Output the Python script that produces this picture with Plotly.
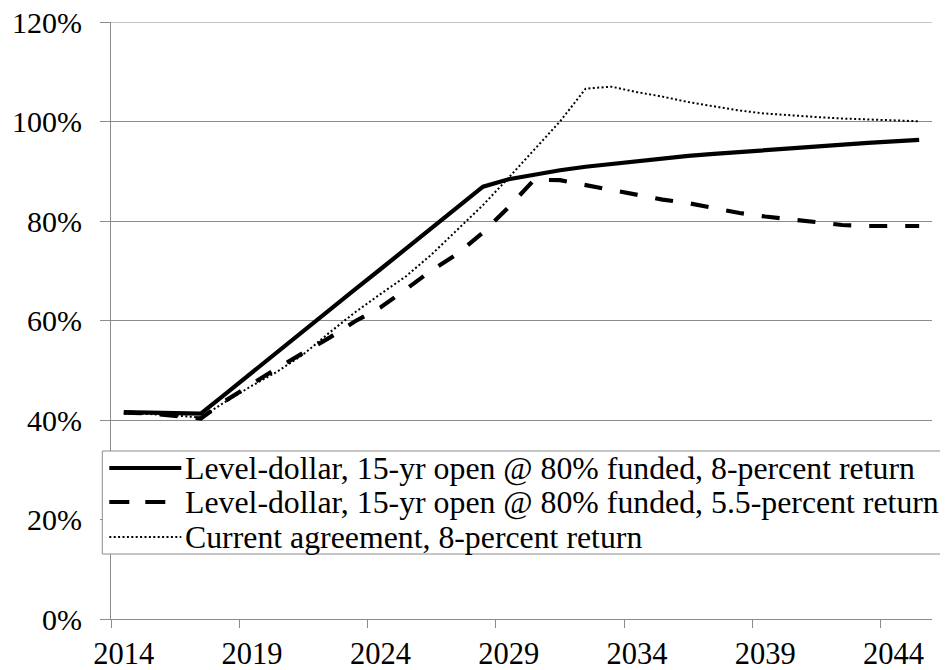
import plotly.graph_objects as go

years = [str(y) for y in range(2014, 2046)]

level_8 = [41.6, 41.5, 41.2, 41.3, 45.4, 49.6, 53.7, 57.9, 62.0, 66.2, 70.3,
           74.5, 78.6, 82.8, 86.9, 88.4, 89.4, 90.2, 90.9, 91.5, 92.1, 92.6,
           93.1, 93.5, 93.9, 94.3, 94.7, 95.1, 95.4, 95.7, 96.0, 96.3]
level_55 = [41.5, 41.3, 40.8, 40.3, 44.0, 47.3, 50.5, 53.5, 56.5, 59.8, 62.6,
            66.3, 70.1, 73.4, 77.7, 82.8, 88.3, 88.2, 87.2, 86.4, 85.2, 84.3,
            83.6, 82.6, 81.6, 80.9, 80.3, 79.6, 79.2, 79.0, 78.9, 79.0]
current_8 = [41.3, 41.2, 40.9, 40.5, 43.8, 46.9, 49.8, 53.2, 57.5, 61.6, 65.3,
             68.9, 73.3, 78.2, 83.2, 88.7, 94.3, 100.0, 106.6, 107.0, 105.9,
             105.0, 103.9, 103.1, 102.2, 101.6, 101.2, 100.9, 100.6, 100.4,
             100.2, 100.05]

series_names = [
    "Level-dollar, 15-yr open @ 80% funded, 8-percent return",
    "Level-dollar, 15-yr open @ 80% funded, 5.5-percent return",
    "Current agreement, 8-percent return",
]
y_tick_vals = [0, 20, 40, 60, 80, 100, 120]
y_tick_text = ["0%", "20%", "40%", "60%", "80%", "100%", "120%"]

FONT = "serif"
GRID = "#8c8c8c"

styles = [
    dict(color="black", width=4.2, dash="solid"),
    dict(color="black", width=4.2, dash="18px,18px"),
    dict(color="black", width=2, dash="2px,2.4px"),
]
data = [level_8, level_55, current_8]

fig = go.Figure()
for name, vals, st in zip(series_names, data, styles):
    fig.add_trace(go.Scatter(x=years, y=vals, mode="lines", name=name,
                             line=st, showlegend=False))

# page offset (body margin) and plot-area geometry in screenshot pixels
OFF = 8
FW, FH = 948 - OFF, 670 - OFF
PL, PR, PT, PB = 110.7, 931.7, 22, 619
L, T = PL - OFF, PT - OFF
R, B = FW - (PR - OFF), FH - (PB - OFF)
W, H = PR - PL, PB - PT


def px_x(p):
    return (p - PL) / W


def px_y(p):
    return (PB - p) / H


shapes = [
    # top gridline (plotly drops gridlines that sit on the plot edge)
    dict(type="line", xref="paper", yref="y", x0=0, x1=1,
         y0=y_tick_vals[-1], y1=y_tick_vals[-1],
         line=dict(color=GRID, width=1), layer="below"),
    dict(type="rect", xref="paper", yref="paper",
         x0=px_x(102), x1=px_x(946), y0=px_y(554), y1=px_y(451),
         fillcolor="white", line=dict(color=GRID, width=1), layer="above"),
]
annotations = []
rows = [468, 502, 537]
for name, st, r in zip(series_names, styles, rows):
    shapes.append(dict(type="line", xref="paper", yref="paper",
                       x0=px_x(109), x1=px_x(181), y0=px_y(r), y1=px_y(r),
                       line=dict(color="black", width=st["width"],
                                 dash=("20px,16px" if "18px" in st["dash"] else st["dash"])),
                       layer="above"))
    annotations.append(dict(xref="paper", yref="paper", x=px_x(183), y=px_y(r),
                            xanchor="left", yanchor="middle", text=name,
                            showarrow=False,
                            font=dict(family=FONT, size=31.8, color="black")))

fig.update_layout(
    width=FW, height=FH,
    margin=dict(l=L, r=R, t=T, b=B),
    paper_bgcolor="white", plot_bgcolor="white",
    font=dict(family=FONT, color="black"),
    shapes=shapes, annotations=annotations,
)
fig.update_xaxes(
    type="category", range=[-0.5, 31.5], dtick=5, tick0=0,
    tickson="boundaries", ticks="outside", ticklen=8, tickcolor=GRID,
    showgrid=False, showline=True, linecolor=GRID, linewidth=1,
    tickfont=dict(family=FONT, size=30.5), ticklabelstandoff=7,
    tickangle=0, automargin=False, ticklabeloverflow="allow",
)
fig.update_yaxes(
    range=[0, 120], tickvals=y_tick_vals, ticktext=y_tick_text,
    ticks="outside", ticklen=10, tickcolor=GRID,
    showgrid=True, gridcolor=GRID, gridwidth=1,
    showline=True, linecolor=GRID, linewidth=1, zeroline=False,
    tickfont=dict(family=FONT, size=30), ticklabelstandoff=12,
    automargin=False, ticklabeloverflow="allow",
)

fig.write_html("out.html")
